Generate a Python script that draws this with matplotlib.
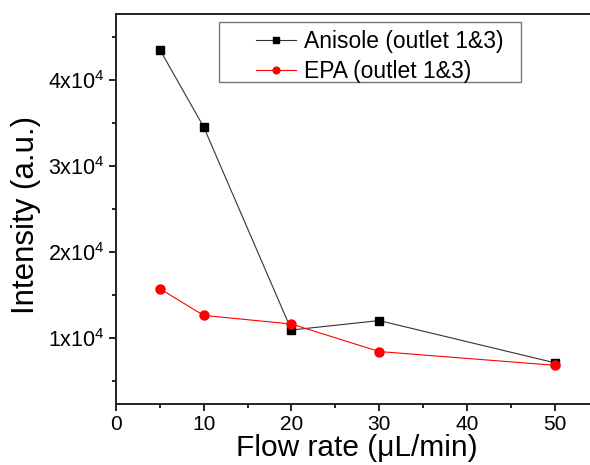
import matplotlib
matplotlib.use("Agg")
import matplotlib.pyplot as plt
from matplotlib.ticker import FuncFormatter, MultipleLocator
from matplotlib.patches import Rectangle

plt.rcParams['font.family'] = ['Liberation Sans', 'DejaVu Sans']
plt.rcParams['mathtext.fontset'] = 'custom'
plt.rcParams['mathtext.rm'] = 'Liberation Sans'
plt.rcParams['mathtext.it'] = 'Liberation Sans:italic'
plt.rcParams['mathtext.bf'] = 'Liberation Sans:bold'

flow = [5, 10, 20, 30, 50]
anisole = [43500, 34500, 10900, 12000, 7100]
epa = [15700, 12600, 11600, 8400, 6800]
anisole_label = "Anisole (outlet 1&3)"
epa_label = "EPA (outlet 1&3)"
x_ticks = [0, 10, 20, 30, 40, 50]
y_ticks = [10000, 20000, 30000, 40000]

fig = plt.figure(figsize=(5.9, 4.65), dpi=100)
ax = fig.add_axes([116/590, 1-404/465, 1-116/590, (404-14)/465])

ax.plot(flow, anisole, '-s', color='#333333', lw=0.8, ms=5.8, mfc='black', mec='black',
        label=anisole_label, clip_on=False, zorder=3)
ax.plot(flow, epa, '-o', color='red', lw=0.8, ms=6.5, mfc='red', mec='red',
        label=epa_label, clip_on=False, zorder=4)

ax.set_xlim(0, (590-116)/8.77)
ax.set_ylim(2300, 47640)
ax.set_xticks(x_ticks)
ax.set_yticks(y_ticks)
ax.xaxis.set_minor_locator(MultipleLocator(5))
ax.yaxis.set_minor_locator(MultipleLocator(5000))
ax.yaxis.set_major_formatter(FuncFormatter(lambda v, p: r"%dx10$^{4}$" % round(v/10000)))

ax.tick_params(which='major', direction='out', length=5, width=1.2, labelsize=15.5, pad=3)
ax.tick_params(which='minor', direction='out', length=3, width=1.2)
ax.tick_params(axis='x', labelsize=15)
for s in ['left', 'bottom', 'top']:
    ax.spines[s].set_linewidth(1.4)
    ax.spines[s].set_color('#222222')
ax.spines['right'].set_visible(False)

ax.set_xlabel("Flow rate (μL/min)", fontsize=21.5)
ax.set_ylabel("Intensity (a.u.)", fontsize=22.5)
ax.xaxis.set_label_coords(0.508, -0.076)
ax.yaxis.set_label_coords(-0.158, 0.484)

# legend frame
frame = Rectangle((219/590, 1-82/465), (521-219)/590, 60/465,
                  transform=fig.transFigure, fill=True, facecolor='white',
                  edgecolor='#777777', lw=1.0, zorder=5, clip_on=False)
ax.add_artist(frame)
leg = ax.legend(loc='upper left', bbox_to_anchor=(256/590, 1-30/465),
                bbox_transform=fig.transFigure, borderaxespad=0,
                fontsize=16.5, frameon=False,
                handlelength=1.75, markerscale=0.75, borderpad=0,
                labelspacing=0.3, handletextpad=0.35)
leg.set_zorder(6)

fig.savefig("out.png", dpi=100)
